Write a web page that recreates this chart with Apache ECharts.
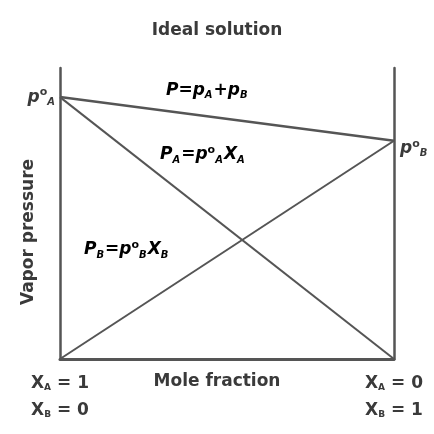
<!DOCTYPE html>
<html>
<head>
<meta charset="utf-8">
<script src="https://cdn.jsdelivr.net/npm/echarts@6/dist/echarts.min.js"></script>
<style>
  html, body { margin: 0; padding: 0; background: #fff; }
  #chart { width: 434px; height: 434px; }
</style>
</head>
<body>
<div id="chart"></div>
<script>
// Mole fraction of B along the x axis (X_A = 1 - X_B)
const moleFractionB = [0, 1];
// Vapour pressure of the pure components (arbitrary units)
const pureA = 90;
const pureB = 75;
// Partial pressures (Raoult's law) and the total pressure at each end
const partialA = [90, 0];
const partialB = [0, 75];
const totalP = [90, 75];
// Axis end labels
const endLabelsA = ['1', '0'];
const endLabelsB = ['0', '1'];

const FONT = 'DejaVu Sans';
const INK = '#3a3a3a';
const LINE = '#555555';

const eq = {
  it: { fontFamily: FONT, fontStyle: 'italic', fontWeight: 'bold', fontSize: 17, color: INK, lineHeight: 24, verticalAlign: 'middle' },
  n: { fontFamily: FONT, fontWeight: 'bold', fontSize: 17, color: INK, lineHeight: 24, verticalAlign: 'middle' },
  sub: { fontFamily: FONT, fontStyle: 'italic', fontWeight: 'bold', fontSize: 10, color: INK, lineHeight: 24, verticalAlign: 'bottom', padding: [0, 1, 2, 0] },
  sup: { fontFamily: FONT, fontWeight: 'bold', fontSize: 11, color: INK, lineHeight: 24, verticalAlign: 'top', padding: [2, 0, 0, 0] }
};

const pairs = (ys) => moleFractionB.map((x, i) => [x, ys[i]]);

const chart = echarts.init(document.getElementById('chart'), null, { renderer: 'canvas' });

chart.setOption({
  animation: false,
  backgroundColor: '#ffffff',
  title: {
    text: 'Ideal solution',
    left: 'center',
    top: 17,
    textStyle: { fontFamily: FONT, fontSize: 17, fontWeight: 'bold', color: INK }
  },
  grid: { left: 60, right: 40, top: 68, bottom: 75, outerBoundsMode: 'none', containLabel: false },
  xAxis: {
    type: 'value',
    min: 0, max: 1, interval: 1,
    axisLine: { show: true, lineStyle: { color: LINE, width: 3 } },
    axisTick: { show: false },
    splitLine: { show: false },
    axisLabel: {
      margin: 11,
      formatter: (v) => {
        const i = v === 0 ? 0 : 1;
        return '{x|X}{s|A}{n| = ' + endLabelsA[i] + '}\n{x|X}{s|B}{n| = ' + endLabelsB[i] + '}';
      },
      rich: {
        x: { fontFamily: FONT, fontSize: 17, fontWeight: 'bold', color: INK, lineHeight: 27, verticalAlign: 'middle' },
        n: { fontFamily: FONT, fontSize: 17, fontWeight: 'bold', color: INK, lineHeight: 27, verticalAlign: 'middle' },
        s: { fontFamily: FONT, fontSize: 9, fontWeight: 'bold', color: INK, lineHeight: 27, verticalAlign: 'bottom', padding: [0, 0, 5, 0] }
      }
    }
  },
  yAxis: [
    {
      type: 'value',
      min: 0, max: 100,
      position: 'left',
      axisLine: { show: true, lineStyle: { color: LINE, width: 2.5 } },
      axisTick: { show: false },
      axisLabel: { show: false },
      splitLine: { show: false }
    },
    {
      type: 'value',
      min: 0, max: 100,
      position: 'right',
      axisLine: { show: true, lineStyle: { color: LINE, width: 2.5 } },
      axisTick: { show: false },
      axisLabel: { show: false },
      splitLine: { show: false }
    }
  ],
  series: [
    {
      name: 'P',
      type: 'line',
      data: pairs(totalP),
      symbol: 'none',
      lineStyle: { color: LINE, width: 2.5 }
    },
    {
      name: 'pA',
      type: 'line',
      data: pairs(partialA),
      symbol: 'none',
      lineStyle: { color: LINE, width: 2 }
    },
    {
      name: 'pB',
      type: 'line',
      data: pairs(partialB),
      symbol: 'none',
      lineStyle: { color: LINE, width: 2 }
    },
    {
      // pure-component vapour pressures marked at each axis
      name: 'pure',
      type: 'scatter',
      symbolSize: 0,
      silent: true,
      itemStyle: { opacity: 1, color: INK },
      data: [
        { value: [0, pureA], label: { position: 'left', distance: 4, offset: [0, 0], formatter: '{it|p}{sup|o}{sub|A}' } },
        { value: [1, pureB], label: { position: 'right', distance: 6, offset: [0, 8], formatter: '{it|p}{sup|o}{sub|B}' } }
      ],
      label: { show: true, color: INK, opacity: 1, rich: eq }
    }
  ],
  graphic: [
    {
      type: 'text', left: 'center', top: 373,
      style: { text: 'Mole fraction', font: 'bold 17px "DejaVu Sans"', fill: INK }
    },
    {
      type: 'text', x: 29, y: 232, rotation: Math.PI / 2,
      style: { text: 'Vapor pressure', font: 'bold 17px "DejaVu Sans"', fill: INK, align: 'center', verticalAlign: 'middle' }
    },
    {
      type: 'text', left: 166, top: 82,
      style: { text: '{it|P}{n|=}{it|p}{sub|A}{n|+}{it|p}{sub|B}', rich: eq }
    },
    {
      type: 'text', left: 160, top: 143,
      style: { text: '{it|P}{sub|A}{n|=}{it|p}{sup|o}{sub|A}{it|X}{sub|A}', rich: eq }
    },
    {
      type: 'text', left: 84, top: 238,
      style: { text: '{it|P}{sub|B}{n|=}{it|p}{sup|o}{sub|B}{it|X}{sub|B}', rich: eq }
    }
  ]
});
</script>
</body>
</html>
